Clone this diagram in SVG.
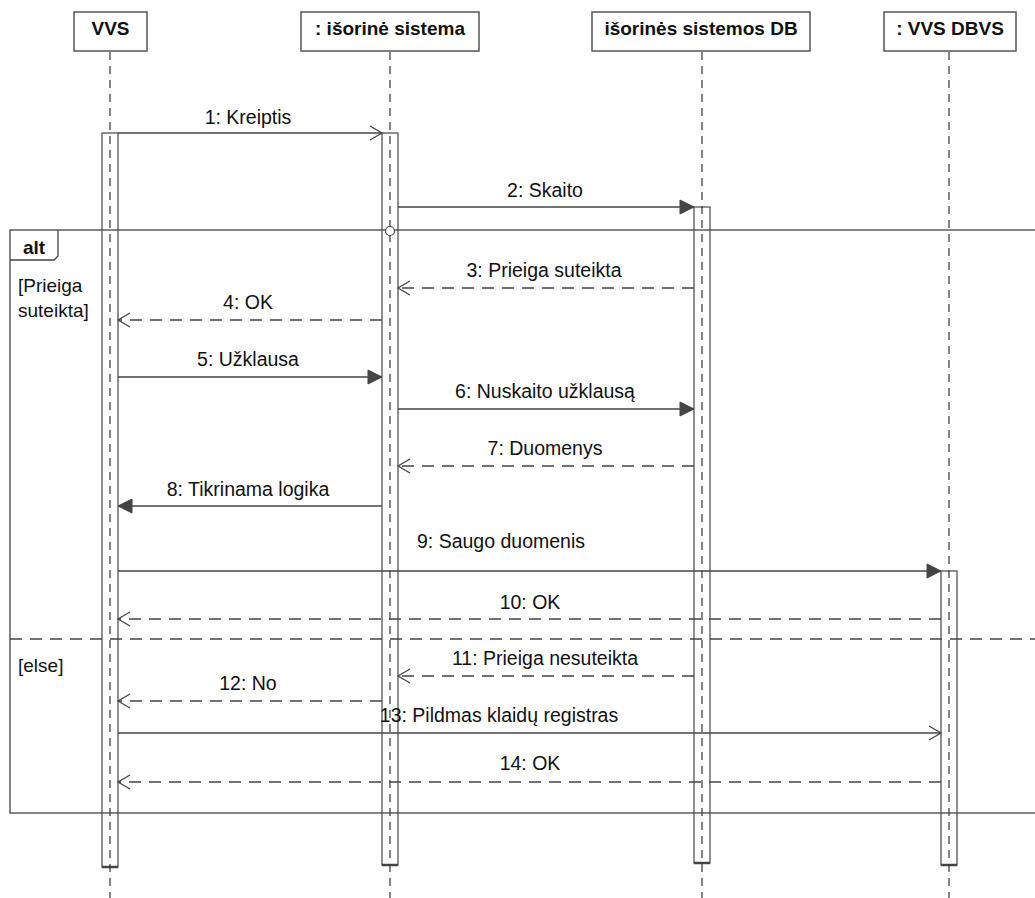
<svg xmlns="http://www.w3.org/2000/svg" width="1035" height="898" viewBox="0 0 1035 898">
<style>
text{font-family:"Liberation Sans",Arial,sans-serif;fill:#111;}
.hd{font-size:19px;font-weight:bold;text-anchor:middle;}
.lb{font-size:19.5px;text-anchor:middle;}
.gd{font-size:19px;}
.box{fill:#fff;stroke:#555;stroke-width:1.5;}
.life{stroke:#333;stroke-width:1.2;stroke-dasharray:8 6;fill:none;}
.bar{fill:#fff;stroke:#555;stroke-width:1.3;}
.barend{stroke:#444;stroke-width:2.5;}
.msg{stroke:#444;stroke-width:1.3;fill:none;}
.ret{stroke:#444;stroke-width:1.3;fill:none;stroke-dasharray:12 8;}
.frame{stroke:#444;stroke-width:1.3;fill:none;}
</style>
<defs>
<marker id="filled" markerWidth="16" markerHeight="18" refX="15" refY="8" orient="auto" markerUnits="userSpaceOnUse">
<path d="M1,1 L15,8 L1,15 Z" fill="#444" stroke="#444" stroke-width="1"/>
</marker>
<marker id="open" markerWidth="16" markerHeight="18" refX="14" refY="8" orient="auto" markerUnits="userSpaceOnUse">
<path d="M2,1 L14,8 L2,15" fill="none" stroke="#444" stroke-width="1.3"/>
</marker>
</defs>

<g id="activations">
<rect class="bar" x="102" y="133" width="16" height="734"/>
<line class="barend" x1="102" y1="867" x2="118" y2="867"/>
<rect class="bar" x="382" y="133" width="16" height="732"/>
<line class="barend" x1="382" y1="865" x2="398" y2="865"/>
<rect class="bar" x="694" y="207" width="16" height="656"/>
<line class="barend" x1="694" y1="863" x2="710" y2="863"/>
<rect class="bar" x="941" y="571" width="16" height="294"/>
<line class="barend" x1="941" y1="865" x2="957" y2="865"/>
</g>

<g id="lifelines">
<line class="life" x1="110" y1="52" x2="110" y2="898"/>
<line class="life" x1="390" y1="52" x2="390" y2="898"/>
<line class="life" x1="702" y1="52" x2="702" y2="898"/>
<line class="life" x1="949" y1="52" x2="949" y2="898"/>
</g>

<g id="node-vvs">
<rect class="box" x="74" y="12" width="73" height="39"/>
<text class="hd" x="110.5" y="35">VVS</text>
</g>
<g id="node-isorine-sistema">
<rect class="box" x="301" y="12" width="178" height="39"/>
<text class="hd" x="390" y="35">: išorinė sistema</text>
</g>
<g id="node-isorines-db">
<rect class="box" x="592" y="12" width="218" height="39"/>
<text class="hd" x="701" y="35">išorinės sistemos DB</text>
</g>
<g id="node-vvs-dbvs">
<rect class="box" x="884" y="12" width="132" height="39"/>
<text class="hd" x="950" y="35">: VVS DBVS</text>
</g>

<g id="alt-fragment">
<rect class="frame" x="10" y="230" width="1035" height="583"/>
<path class="frame" d="M10,260 L54,260 L58,256 L58,230"/>
<text class="gd" x="23" y="254" font-weight="bold">alt</text>
<text class="gd" x="18" y="292">[Prieiga</text>
<text class="gd" x="18" y="317">suteikta]</text>
<line class="ret" x1="10" y1="639" x2="1035" y2="639"/>
<text class="gd" x="18" y="672">[else]</text>
<circle cx="390" cy="231" r="4.5" fill="#fff" stroke="#444" stroke-width="1.2"/>
</g>

<g id="connectors">
<line class="msg" x1="118" y1="133" x2="382" y2="133" marker-end="url(#open)"/>
<text class="lb" x="248" y="124">1: Kreiptis</text>

<line class="msg" x1="398" y1="207" x2="694" y2="207" marker-end="url(#filled)"/>
<text class="lb" x="545" y="197">2: Skaito</text>

<line class="ret" x1="694" y1="288" x2="398" y2="288" marker-end="url(#open)"/>
<text class="lb" x="544" y="277">3: Prieiga suteikta</text>

<line class="ret" x1="382" y1="320" x2="118" y2="320" marker-end="url(#open)"/>
<text class="lb" x="248" y="309">4: OK</text>

<line class="msg" x1="118" y1="377" x2="382" y2="377" marker-end="url(#filled)"/>
<text class="lb" x="248" y="366">5: Užklausa</text>

<line class="msg" x1="398" y1="409" x2="694" y2="409" marker-end="url(#filled)"/>
<text class="lb" x="545" y="398">6: Nuskaito užklausą</text>

<line class="ret" x1="694" y1="466" x2="398" y2="466" marker-end="url(#open)"/>
<text class="lb" x="545" y="455">7: Duomenys</text>

<line class="msg" x1="382" y1="506" x2="118" y2="506" marker-end="url(#filled)"/>
<text class="lb" x="248" y="496">8: Tikrinama logika</text>

<line class="msg" x1="118" y1="571" x2="941" y2="571" marker-end="url(#filled)"/>
<text class="lb" x="501" y="548">9: Saugo duomenis</text>

<line class="ret" x1="941" y1="619" x2="118" y2="619" marker-end="url(#open)"/>
<text class="lb" x="530" y="609">10: OK</text>

<line class="ret" x1="694" y1="676" x2="398" y2="676" marker-end="url(#open)"/>
<text class="lb" x="545" y="665">11: Prieiga nesuteikta</text>

<line class="ret" x1="382" y1="701" x2="118" y2="701" marker-end="url(#open)"/>
<text class="lb" x="248" y="690">12: No</text>

<line class="msg" x1="118" y1="733" x2="941" y2="733" marker-end="url(#open)"/>
<text class="lb" x="499" y="722">13: Pildmas klaidų registras</text>

<line class="ret" x1="941" y1="782" x2="118" y2="782" marker-end="url(#open)"/>
<text class="lb" x="530" y="770">14: OK</text>
</g>
</svg>
